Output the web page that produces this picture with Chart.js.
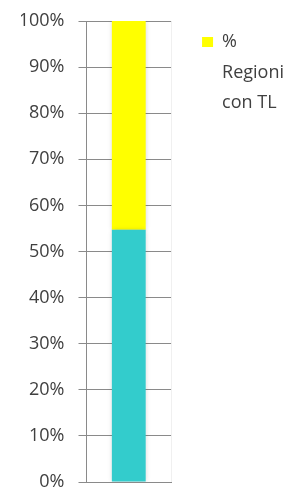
<!DOCTYPE html>
<html>
<head>
<meta charset="utf-8">
<script src="https://cdn.jsdelivr.net/npm/chart.js@4/dist/chart.umd.min.js"></script>
<style>
    html, body { margin: 0; padding: 0; background: #fff; }
    #box { width: 304px; height: 491px; }
</style>
</head>
<body>
<div id="box"><canvas id="grafico"></canvas></div>
<script>
// dati
const categorie = [''];
const conTL = [54.7];
const senzaTL = [45.3];
const tickValori = [0, 10, 20, 30, 40, 50, 60, 70, 80, 90, 100];

// sposta un po' la legenda (verso destra e verso l'alto)
const spostaLegenda = {
    id: 'spostaLegenda',
    afterLayout(chart) {
        chart.legend.left += 11;
        chart.legend.right += 11;
        chart.legend.top -= 8;
        chart.legend.bottom -= 8;
    }
};

// ombra leggera attorno alla barra
const ombraBarra = {
    id: 'ombraBarra',
    beforeDatasetsDraw(chart) {
        const ctx = chart.ctx;
        ctx.save();
        ctx.shadowColor = 'rgba(0,0,0,0.18)';
        ctx.shadowBlur = 5;
    },
    afterDatasetsDraw(chart) {
        chart.ctx.restore();
    }
};

const ctx = document.getElementById('grafico').getContext('2d');
const grafico = new Chart(ctx, {
    type: 'bar',
    data: {
        labels: categorie,
        datasets: [
            {
                label: 'senza TL',
                data: conTL,
                backgroundColor: '#33CCCC',
                categoryPercentage: 1,
                barPercentage: 0.4
            },
            {
                label: ['%', 'Regioni', 'con TL'],
                data: senzaTL,
                backgroundColor: '#FFFF00',
                categoryPercentage: 1,
                barPercentage: 0.4
            }
        ]
    },
    options: {
        responsive: true,
        maintainAspectRatio: false,
        animation: false,
        layout: {
            padding: { top: 21, left: 21, right: 21, bottom: 0 }
        },
        scales: {
            x: {
                stacked: true,
                ticks: { display: false },
                grid: { color: '#f0f0f0', drawTicks: false },
                border: { color: '#8a8a8a' },
                afterFit: (scale) => { scale.height = 0; }
            },
            y: {
                stacked: true,
                min: 0,
                max: 100,
                afterBuildTicks: (scale) => {
                    scale.ticks = tickValori.map(v => ({ value: v }));
                },
                // il padding delle etichette non deve allargare l'area in alto/basso
                afterFit: (scale) => {
                    scale.paddingTop = 0;
                    scale.paddingBottom = 9;
                },
                ticks: {
                    padding: 14,
                    color: '#404040',
                    font: { family: 'Open Sans', size: 18, lineHeight: 1 },
                    callback: (v) => v + '%'
                },
                grid: { color: '#8a8a8a', tickLength: 8 },
                border: { color: '#8a8a8a' }
            }
        },
        plugins: {
            legend: {
                position: 'right',
                align: 'start',
                maxWidth: 160,
                labels: {
                    padding: 20,
                    boxWidth: 11,
                    boxHeight: 10,
                    color: '#404040',
                    font: { family: 'Open Sans', size: 18, lineHeight: 1.7 },
                    filter: (item) => item.datasetIndex === 1
                }
            },
            tooltip: { enabled: false }
        }
    },
    plugins: [spostaLegenda, ombraBarra]
});
</script>
</body>
</html>
